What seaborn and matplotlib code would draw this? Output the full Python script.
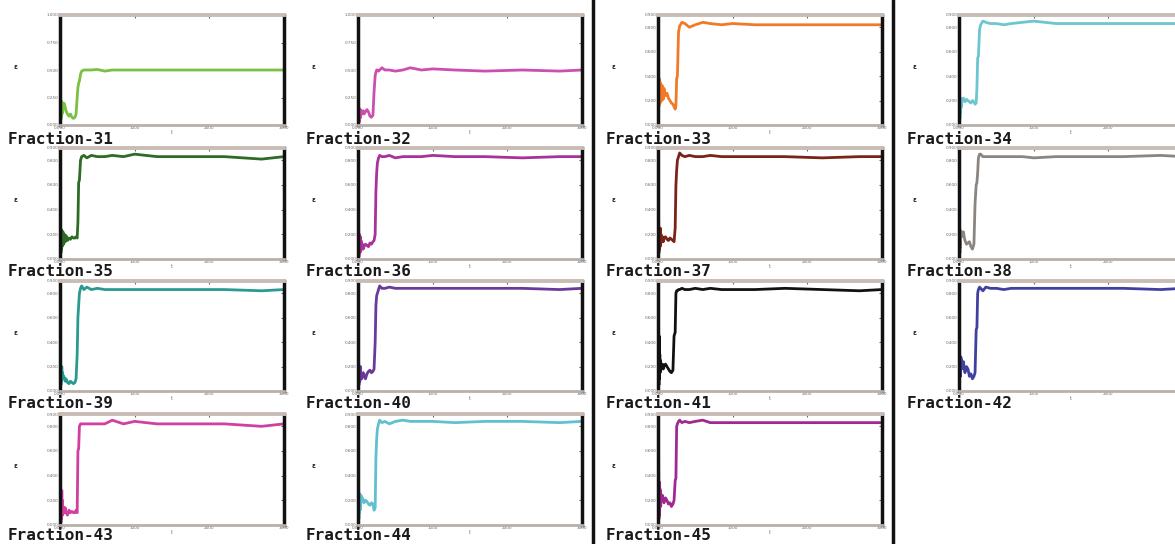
import matplotlib
matplotlib.use("Agg")
import matplotlib.pyplot as plt
import seaborn as sns
import pandas as pd
from matplotlib.lines import Line2D

sns.set_theme(style="white")
plt.rcParams['font.family'] = ['DejaVu Sans']

# shared time grid
X = [0, 4, 8, 12, 16, 20, 24, 28, 32, 36, 40, 50, 60, 70, 80, 100, 120, 140, 160, 180,
     200, 215, 230, 240, 250, 260, 275, 290, 320, 360, 420, 500, 600, 700, 850, 1000,
     1300, 1700, 2200, 2700, 3000]

names = ["Fraction-31", "Fraction-32", "Fraction-33", "Fraction-34",
         "Fraction-35", "Fraction-36", "Fraction-37", "Fraction-38",
         "Fraction-39", "Fraction-40", "Fraction-41", "Fraction-42",
         "Fraction-43", "Fraction-44", "Fraction-45"]

colors = ["#7ac143", "#cc4fae", "#f07a2a", "#6cc5d1",
          "#2e6b27", "#a8329a", "#7a2318", "#8a8580",
          "#2a9a90", "#6a3a9a", "#111111", "#4040a0",
          "#d040a0", "#60c0d0", "#a02890"]

y31 = [0.32, 0.02, 0.25, 0.05, 0.22, 0.08, 0.20, 0.10, 0.18, 0.12, 0.17, 0.20, 0.19, 0.16, 0.13, 0.10, 0.08, 0.10, 0.07, 0.06,
       0.07, 0.10, 0.25, 0.34, 0.38, 0.40, 0.46, 0.49, 0.50, 0.50, 0.50, 0.505, 0.49, 0.50, 0.50, 0.50, 0.50, 0.50, 0.50, 0.50, 0.50]
y32 = [0.28, 0.00, 0.20, 0.04, 0.15, 0.03, 0.12, 0.06, 0.14, 0.08, 0.12, 0.10, 0.11, 0.13, 0.10, 0.12, 0.14, 0.12, 0.08, 0.07,
       0.09, 0.30, 0.45, 0.48, 0.50, 0.50, 0.49, 0.50, 0.52, 0.50, 0.50, 0.49, 0.50, 0.52, 0.50, 0.51, 0.50, 0.49, 0.50, 0.49, 0.50]
y33 = [0.60, 0.00, 0.40, 0.15, 0.38, 0.20, 0.36, 0.18, 0.34, 0.22, 0.33, 0.20, 0.32, 0.21, 0.30, 0.24, 0.26, 0.22, 0.20, 0.18,
       0.17, 0.15, 0.13, 0.16, 0.38, 0.40, 0.76, 0.81, 0.84, 0.83, 0.80, 0.82, 0.84, 0.83, 0.82, 0.83, 0.82, 0.82, 0.82, 0.82, 0.82]
y34 = [0.31, 0.00, 0.25, 0.05, 0.20, 0.10, 0.22, 0.14, 0.20, 0.17, 0.21, 0.20, 0.22, 0.20, 0.19, 0.21, 0.20, 0.19, 0.18, 0.20,
       0.19, 0.17, 0.18, 0.30, 0.55, 0.56, 0.78, 0.82, 0.85, 0.84, 0.83, 0.83, 0.82, 0.83, 0.84, 0.85, 0.83, 0.83, 0.83, 0.83, 0.83]
y35 = [0.38, 0.00, 0.25, 0.05, 0.24, 0.08, 0.23, 0.10, 0.22, 0.12, 0.22, 0.12, 0.20, 0.14, 0.19, 0.15, 0.17, 0.16, 0.18, 0.17,
       0.17, 0.18, 0.17, 0.30, 0.62, 0.64, 0.80, 0.83, 0.84, 0.82, 0.84, 0.83, 0.83, 0.84, 0.83, 0.85, 0.83, 0.83, 0.83, 0.81, 0.83]
y36 = [0.45, 0.00, 0.30, 0.02, 0.20, 0.05, 0.15, 0.08, 0.18, 0.06, 0.15, 0.10, 0.12, 0.08, 0.10, 0.12, 0.11, 0.10, 0.13, 0.12,
       0.14, 0.15, 0.20, 0.55, 0.70, 0.78, 0.82, 0.84, 0.83, 0.83, 0.84, 0.82, 0.83, 0.83, 0.83, 0.84, 0.83, 0.83, 0.82, 0.83, 0.83]
y37 = [0.50, 0.00, 0.35, 0.05, 0.22, 0.08, 0.20, 0.10, 0.25, 0.12, 0.20, 0.15, 0.18, 0.14, 0.17, 0.18, 0.16, 0.15, 0.17, 0.16,
       0.15, 0.14, 0.25, 0.60, 0.72, 0.80, 0.83, 0.86, 0.84, 0.83, 0.84, 0.83, 0.83, 0.84, 0.83, 0.83, 0.83, 0.83, 0.82, 0.83, 0.83]
y38 = [0.23, 0.02, 0.20, 0.05, 0.22, 0.10, 0.23, 0.20, 0.22, 0.18, 0.20, 0.21, 0.22, 0.18, 0.15, 0.12, 0.13, 0.14, 0.10, 0.08,
       0.12, 0.45, 0.60, 0.62, 0.70, 0.82, 0.85, 0.85, 0.83, 0.83, 0.83, 0.83, 0.83, 0.83, 0.83, 0.82, 0.83, 0.83, 0.83, 0.84, 0.83]
y39 = [0.30, 0.00, 0.20, 0.05, 0.15, 0.08, 0.20, 0.10, 0.12, 0.15, 0.10, 0.12, 0.10, 0.08, 0.10, 0.07, 0.06, 0.08, 0.07, 0.06,
       0.07, 0.10, 0.30, 0.60, 0.70, 0.80, 0.84, 0.86, 0.83, 0.85, 0.83, 0.84, 0.83, 0.83, 0.83, 0.83, 0.83, 0.83, 0.83, 0.82, 0.83]
y40 = [0.55, 0.02, 0.25, 0.05, 0.12, 0.15, 0.08, 0.10, 0.20, 0.12, 0.14, 0.10, 0.12, 0.15, 0.13, 0.10, 0.14, 0.16, 0.17, 0.15,
       0.16, 0.18, 0.40, 0.70, 0.78, 0.80, 0.83, 0.86, 0.84, 0.84, 0.85, 0.84, 0.84, 0.84, 0.84, 0.84, 0.84, 0.84, 0.84, 0.83, 0.84]
y41 = [0.68, 0.00, 0.55, 0.05, 0.45, 0.10, 0.30, 0.15, 0.25, 0.18, 0.22, 0.20, 0.22, 0.18, 0.20, 0.22, 0.20, 0.18, 0.16, 0.15,
       0.17, 0.45, 0.48, 0.80, 0.82, 0.82, 0.83, 0.83, 0.84, 0.83, 0.83, 0.84, 0.83, 0.84, 0.83, 0.83, 0.83, 0.84, 0.83, 0.82, 0.83]
y42 = [0.65, 0.00, 0.20, 0.15, 0.22, 0.12, 0.28, 0.20, 0.26, 0.18, 0.22, 0.20, 0.24, 0.18, 0.15, 0.20, 0.18, 0.12, 0.14, 0.10,
       0.12, 0.15, 0.50, 0.52, 0.80, 0.83, 0.85, 0.84, 0.82, 0.85, 0.84, 0.84, 0.83, 0.84, 0.84, 0.84, 0.84, 0.84, 0.84, 0.83, 0.84]
y43 = [0.55, 0.00, 0.30, 0.02, 0.25, 0.05, 0.28, 0.10, 0.20, 0.08, 0.15, 0.12, 0.10, 0.14, 0.10, 0.08, 0.12, 0.10, 0.11, 0.10,
       0.10, 0.12, 0.10, 0.60, 0.62, 0.80, 0.82, 0.82, 0.82, 0.82, 0.82, 0.82, 0.82, 0.85, 0.82, 0.84, 0.82, 0.82, 0.82, 0.80, 0.82]
y44 = [0.42, 0.00, 0.28, 0.05, 0.26, 0.10, 0.25, 0.12, 0.22, 0.15, 0.24, 0.20, 0.22, 0.20, 0.18, 0.20, 0.19, 0.17, 0.16, 0.18,
       0.17, 0.12, 0.14, 0.55, 0.70, 0.78, 0.82, 0.85, 0.83, 0.84, 0.82, 0.84, 0.85, 0.84, 0.84, 0.84, 0.83, 0.84, 0.84, 0.83, 0.84]
y45 = [0.75, 0.00, 0.60, 0.05, 0.35, 0.08, 0.30, 0.20, 0.28, 0.15, 0.25, 0.22, 0.24, 0.20, 0.18, 0.22, 0.20, 0.17, 0.18, 0.15,
       0.17, 0.20, 0.36, 0.38, 0.80, 0.82, 0.84, 0.85, 0.83, 0.84, 0.83, 0.84, 0.85, 0.83, 0.83, 0.83, 0.83, 0.83, 0.83, 0.83, 0.83]

series = [y31, y32, y33, y34, y35, y36, y37, y38, y39, y40, y41, y42, y43, y44, y45]

x_ticks = [0, 1000, 2000, 3000]
x_tick_labels = ["0.000", "1000", "2000", "3000"]
y_ticks_half = [0, 0.25, 0.5, 0.75, 1.0]
y_labels_half = ["0.000", "0.250", "0.500", "0.750", "1.000"]
y_ticks_full = [0, 0.2, 0.4, 0.6, 0.8, 0.9]
y_labels_full = ["0.000", "0.200", "0.400", "0.600", "0.800", "0.900"]

W, H = 1175, 544
fig = plt.figure(figsize=(W / 100, H / 100), dpi=100)

col_left = [60, 358, 658, 959]
row_tb = [(15, 125), (148, 259), (281, 391), (414, 525)]
label_y = [139, 271, 404, 536]
ax_w = 224

for i, (name, col, ys) in enumerate(zip(names, colors, series)):
    r, c = divmod(i, 4)
    top, bot = row_tb[r]
    left = col_left[c]
    ax = fig.add_axes([left / W, 1 - bot / H, ax_w / W, (bot - top) / H])
    df = pd.DataFrame({"t": X, "v": ys})
    sns.lineplot(data=df, x="t", y="v", ax=ax, color=col, lw=2.0,
                 estimator=None, sort=False)
    ax.set_xlim(0, 3000)
    if i < 2:
        ax.set_ylim(0, 1.0)
        ax.set_yticks(y_ticks_half)
        ax.set_yticklabels(y_labels_half)
    else:
        ax.set_ylim(0, 0.9)
        ax.set_yticks(y_ticks_full)
        ax.set_yticklabels(y_labels_full)
    ax.set_xticks(x_ticks)
    if c == 3:
        ax.set_xticklabels(x_tick_labels[:3] + [""])
    else:
        ax.set_xticklabels(x_tick_labels)
    ax.tick_params(axis="both", labelsize=3, colors="#666666", length=2, width=0.8,
                   direction="in", top=True, right=True, pad=1)
    ax.set_xlabel("t", fontsize=3.5, color="#777777", labelpad=0)
    ax.set_ylabel("ε", fontsize=5, rotation=0, fontweight="bold", color="#222222")
    ax.yaxis.set_label_coords(-0.2, 0.5)
    ax.spines["top"].set_color("#c9bcb5")
    ax.spines["top"].set_linewidth(2.8)
    ax.spines["bottom"].set_color("#b8b0aa")
    ax.spines["bottom"].set_linewidth(2.0)
    ax.spines["left"].set_color("#111111")
    ax.spines["left"].set_linewidth(2.5)
    ax.spines["right"].set_color("#111111")
    ax.spines["right"].set_linewidth(2.5)
    fig.text((left - 52) / W, 1 - label_y[r] / H, name, fontsize=11.5,
             family="DejaVu Sans Mono", fontweight="bold", color="#1a1a1a",
             va="center", ha="left")

for xs in (593, 893):
    fig.add_artist(Line2D([xs / W, xs / W], [0, 1], color="#111111", lw=2.5))

fig.savefig("out.png", dpi=100)
